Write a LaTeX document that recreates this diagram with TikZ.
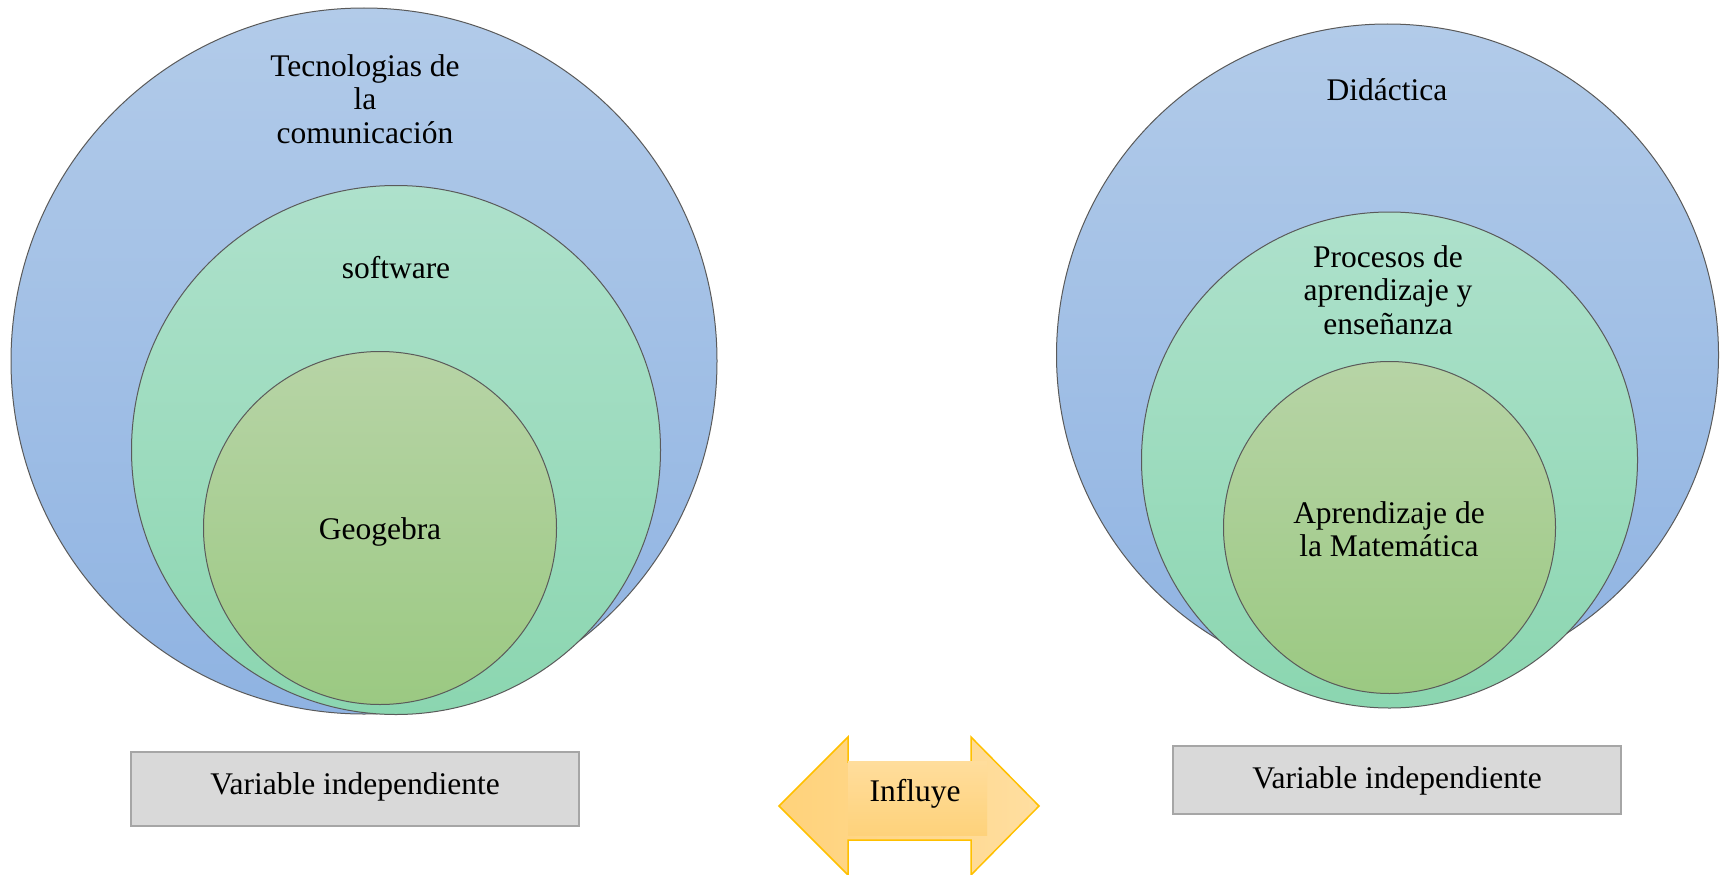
\documentclass[tikz,border=0pt]{standalone}
\usepackage{fontspec}
\setmainfont{Liberation Serif}
\definecolor{blueT}{HTML}{B2CBE9}
\definecolor{blueB}{HTML}{8FB3E2}
\definecolor{greenT}{HTML}{AEE1CC}
\definecolor{greenB}{HTML}{8BD6B0}
\definecolor{innerT}{HTML}{B7D4A6}
\definecolor{innerB}{HTML}{9BC982}
\definecolor{ringline}{HTML}{5A5A5A}
\definecolor{boxfill}{HTML}{D9D9D9}
\definecolor{boxline}{HTML}{A6A6A6}
\definecolor{arrowline}{HTML}{FFC000}
\definecolor{arrowL}{HTML}{FFD27A}
\definecolor{arrowR}{HTML}{FFDEA0}
\definecolor{tagT}{HTML}{FFDD9C}
\definecolor{tagB}{HTML}{FED27B}
\begin{document}
\begin{tikzpicture}[x=1pt,y=-1pt,
  ring/.style={circle, draw=ringline, line width=1pt, inner sep=0pt},
  outerring/.style={ring, top color=blueT, bottom color=blueB},
  midring/.style={ring, top color=greenT, bottom color=greenB},
  innerring/.style={ring, top color=innerT, bottom color=innerB},
  lbl/.style={font=\fontsize{31.5}{33.5}\selectfont, align=center, text=black, inner sep=0pt},
  varbox/.style={draw=boxline, fill=boxfill, line width=2pt, inner sep=0pt, minimum width=448pt}
]
\useasboundingbox (0,0) rectangle (1721,875);

% Left group
\node[outerring, minimum size=706pt] (LA) at (364,361) {};
\node[midring, minimum size=529pt] (LB) at (396,450) {};
\node[innerring, minimum size=353pt] (LC) at (380,528) {};
\node[lbl] (tLA) at (365,99) {Tecnologias de\\la\\comunicación};
\node[lbl] (tLB) at (396,268) {software};
\node[lbl] (tLC) at (380,531.5) {Geogebra};

% Right group
\node[outerring, minimum size=662pt] (RA) at (1387.5,355) {};
\node[midring, minimum size=496pt] (RB) at (1389.5,460) {};
\node[innerring, minimum size=332pt] (RC) at (1389.5,527.5) {};
\node[lbl] (tRA) at (1387,90) {Didáctica};
\node[lbl] (tRB) at (1388,290) {Procesos de\\aprendizaje y\\enseñanza};
\node[lbl] (tRC) at (1389,529) {Aprendizaje de\\la Matemática};

% Boxes
\node[varbox, minimum height=74pt] (VL) at (355,789) {};
\node[lbl] (tVL) at (355,786.5) {Variable independiente};
\node[varbox, minimum height=68pt] (VR) at (1397,780) {};
\node[lbl] (tVR) at (1397,781) {Variable independiente};

% Double arrow
\draw[arrowline, line width=1.5pt, line join=miter, left color=arrowL, right color=arrowR]
  (779,806) -- (848,737) -- (848,762) -- (971,762) -- (971,737) -- (1039,806)
  -- (971,875) -- (971,840) -- (848,840) -- (848,875) -- cycle;
\fill[top color=tagT, bottom color=tagB] (848,761) rectangle (987,835);
\node[lbl] (tAR) at (915,793.5) {Influye};
\end{tikzpicture}
\end{document}
